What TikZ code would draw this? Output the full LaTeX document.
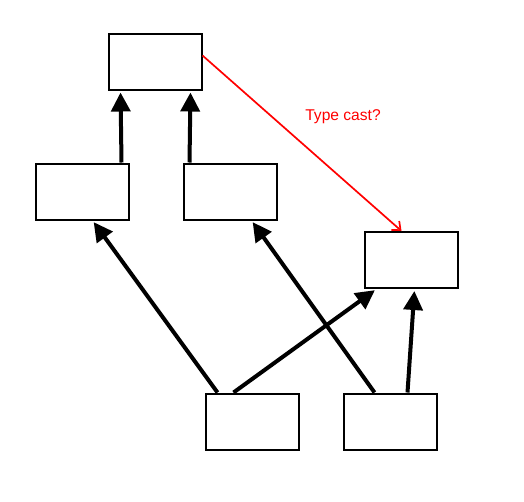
\documentclass[tikz,border=0pt]{standalone}
\usepackage{fontspec}
\setmainfont{Liberation Sans}
\usetikzlibrary{arrows.meta}
\begin{document}
\begin{tikzpicture}[x=1pt,y=-1pt,
  box/.style={draw,line width=2pt,minimum width=93pt,minimum height=56pt,inner sep=0pt},
  up/.style={line width=4pt,-{Triangle[length=19pt,width=19pt]},shorten >=2pt},
  cast/.style={red,line width=1.7pt,-{Straight Barb[length=7pt,width=12pt]}}]
\useasboundingbox (0,0) rectangle (524,501);
\node[box] (top) at (155,61.5) {};
\node[box] (ml) at (82,191.5) {};
\node[box] (mc) at (230,191.5) {};
\node[box] (rt) at (411,260) {};
\node[box] (bl) at (252,421.5) {};
\node[box] (br) at (390,421.5) {};
\node[text=red,font=\fontsize{15.6}{18}\selectfont] (lbl) at (343,117) {Type cast?};
\draw[up] ([xshift=-8pt]ml.north east) -- ([xshift=13pt]top.south west);
\draw[up] ([xshift=7pt]mc.north west) -- ([xshift=-12pt]top.south east);
\draw[up] ([xshift=13pt]bl.north west) -- ([xshift=58pt]ml.south west);
\draw[up] ([xshift=29pt]bl.north west) -- ([xshift=13pt]rt.south west);
\draw[up] ([xshift=32pt]br.north west) -- ([xshift=69pt]mc.south west);
\draw[up] ([xshift=65pt]br.north west) -- ([xshift=51pt]rt.south west);
\draw[cast] ([yshift=6pt]top.east) -- ([xshift=38pt]rt.north west);
\end{tikzpicture}
\end{document}
